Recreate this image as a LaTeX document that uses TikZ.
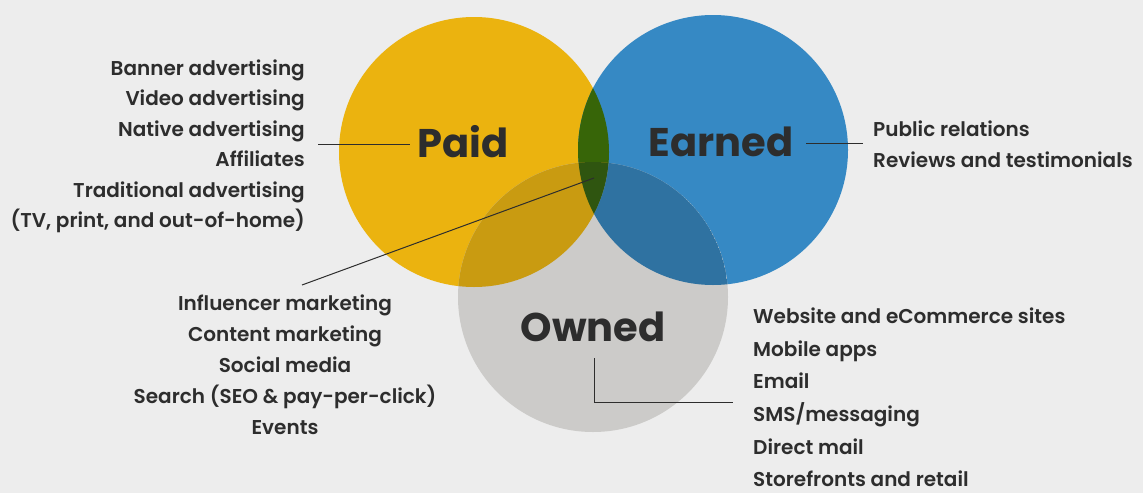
\documentclass[tikz,border=0pt]{standalone}
\usepackage{fontspec}
\setmainfont{Poppins}[UprightFont=*-SemiBold,BoldFont=*-Bold]
\definecolor{bg}{HTML}{EDEDED}
\definecolor{cpaid}{HTML}{EBB30F}
\definecolor{cearned}{HTML}{3689C4}
\definecolor{cowned}{HTML}{CCCBC9}
\definecolor{cpe}{HTML}{376508}
\definecolor{cpo}{HTML}{C99B11}
\definecolor{ceo}{HTML}{2F72A1}
\definecolor{call}{HTML}{2F5510}
\definecolor{txt}{HTML}{2D2D2D}
\begin{document}
\begin{tikzpicture}[x=1pt,y=-1pt,
  listtext/.style={text=txt,inner sep=0pt,font=\fontsize{20}{30.5}\selectfont},
  ownlist/.style={text=txt,inner sep=0pt,font=\fontsize{20}{32.6}\selectfont},
  midlist/.style={text=txt,inner sep=0pt,font=\fontsize{20}{31}\selectfont},
  biglabel/.style={text=txt,inner sep=0pt,font=\bfseries\fontsize{40}{40}\selectfont},
  conn/.style={draw=txt,line width=1pt}]
\fill[bg] (0,0) rectangle (1143,493);
\useasboundingbox (0,0) rectangle (1143,493);
\coordinate (P) at (474,152);
\coordinate (E) at (713,150);
\coordinate (O) at (593,297);
\def\R{135pt}
\fill[cpaid] (P) circle[radius=\R];
\fill[cearned] (E) circle[radius=\R];
\fill[cowned] (O) circle[radius=\R];
\begin{scope}
  \clip (P) circle[radius=\R];
  \fill[cpe] (E) circle[radius=\R];
  \fill[cpo] (O) circle[radius=\R];
  \clip (E) circle[radius=\R];
  \fill[call] (O) circle[radius=\R];
\end{scope}
\begin{scope}
  \clip (E) circle[radius=\R];
  \clip (O) circle[radius=\R];
  \begin{scope}[even odd rule]
    \clip (P) circle[radius=\R] (0,0) rectangle (1143,493);
    \fill[ceo] (O) circle[radius=\R];
  \end{scope}
\end{scope}
% labels
\node[biglabel] (paid) at (463,142) {Paid};
\node[biglabel] (earned) at (721,142) {Earned};
\node[biglabel] (owned) at (593,327) {Owned};
% lists
\node[listtext,align=right,anchor=east] (plist) at (305,146.5) {Banner advertising\\Video advertising\\Native advertising\\Affiliates\\Traditional advertising\\(TV, print, and out-of-home)};
\node[listtext,align=left,anchor=west] (elist) at (873,144) {Public relations\\Reviews and testimonials};
\node[midlist,align=center] (clist) at (285,365) {Influencer marketing\\Content marketing\\Social media\\Search (SEO \& pay-per-click)\\Events};
\node[ownlist,align=left,anchor=west] (olist) at (753,397.5) {Website and eCommerce sites\\Mobile apps\\Email\\SMS/messaging\\Direct mail\\Storefronts and retail};
% connectors
\coordinate (pa) at (318,144);
\coordinate (pb) at (410,144);
\draw[conn] (pa) -- (pb);
\coordinate (ea) at (806,143);
\coordinate (eb) at (863,143);
\draw[conn] (ea) -- (eb);
\coordinate (ca) at (594,178);
\coordinate (cb) at (302,285);
\draw[conn] (ca) -- (cb);
\coordinate (oa) at (594,358);
\coordinate (ob) at (733,402);
\draw[conn] (oa) |- (ob);
\end{tikzpicture}
\end{document}
